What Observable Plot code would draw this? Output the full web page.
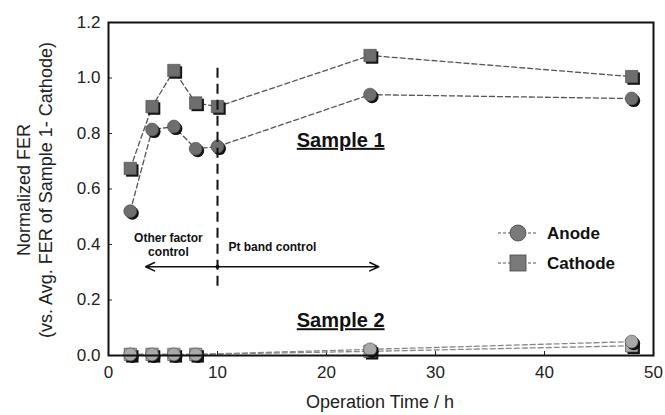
<!DOCTYPE html>
<html><head><meta charset="utf-8">
<script src="https://cdn.jsdelivr.net/npm/d3@7"></script>
<script src="https://cdn.jsdelivr.net/npm/@observablehq/plot@0.6"></script>
<style>
body{margin:0;background:#fff;font-family:"Liberation Sans",Arial,sans-serif;}
#chart{position:relative;width:665px;height:415px;}
.uline text{text-decoration:underline;}
</style></head><body><div id="chart"></div>
<script>
const hours1 = [2, 4, 6, 8, 10, 24, 48];
const s1Anode = [0.52, 0.814, 0.825, 0.745, 0.753, 0.94, 0.926];
const s1Cathode = [0.674, 0.897, 1.027, 0.91, 0.897, 1.081, 1.005];
const hours2 = [2, 4, 6, 8, 24, 48];
const s2Anode = [0.004, 0.004, 0.004, 0.004, 0.022, 0.05];
const s2Cathode = [0.004, 0.004, 0.004, 0.004, 0.015, 0.035];
const xTicks = [0, 10, 20, 30, 40, 50];
const yTicks = [0, 0.2, 0.4, 0.6, 0.8, 1.0, 1.2];

const mk = (xs, ys, sample, electrode) => xs.map((x, i) => ({x, y: ys[i], sample, electrode}));
const s1a = mk(hours1, s1Anode, "1", "Anode");
const s1c = mk(hours1, s1Cathode, "1", "Cathode");
const s2a = mk(hours2, s2Anode, "2", "Anode");
const s2c = mk(hours2, s2Cathode, "2", "Cathode");

const dark = "#6e6e6e", light = "#a9a9a9";
function series(data, symbol, fill, stroke, r) {
  return [
    Plot.line(data, {x: "x", y: "y", stroke: stroke, strokeWidth: 1.3, strokeDasharray: "5,3"}),
    Plot.dot(data, {x: "x", y: "y", symbol, r, fill: "#111", stroke: "none", dx: 2, dy: 2}),
    Plot.dot(data, {x: "x", y: "y", symbol, r, fill, stroke: "#444", strokeWidth: 0.6})
  ];
}

const chart = Plot.plot({
  width: 665, height: 415,
  marginLeft: 108, marginRight: 12, marginTop: 22, marginBottom: 60,
  style: {fontFamily: "'Liberation Sans', Arial, sans-serif", fontSize: "17px", color: "#222", background: "#fff"},
  x: {domain: [0, 50], ticks: xTicks, tickSize: -4, tickPadding: 14, label: null},
  y: {domain: [0, 1.2], ticks: yTicks, tickFormat: d3.format(".1f"), tickSize: -4, tickPadding: 12, label: null},
  marks: [
    ...series(s2c, "square", light, "#888", 7),
    ...series(s2a, "circle", light, "#888", 6.5),
    ...series(s1c, "square", dark, "#555", 7),
    ...series(s1a, "circle", dark, "#555", 6.5),
    Plot.ruleX([10], {y1: 0.25, y2: 1.04, stroke: "#111", strokeWidth: 2, strokeDasharray: "10,6"}),
    Plot.arrow([{x1: 10, x2: 3.4, y: 0.32}, {x1: 10, x2: 24.8, y: 0.32}], {x1: "x1", x2: "x2", y1: "y", y2: "y", stroke: "#111", strokeWidth: 1.5, headLength: 10, headAngle: 50}),
    Plot.dot([{x: 10, y: 0.32}], {x: "x", y: "y", r: 2, fill: "#111"}),
    Plot.text(["Other factor\ncontrol"], {x: 5.5, y: 0.40, fontWeight: "bold", fontSize: 12, fill: "#111", lineHeight: 1.2}),
    Plot.text(["Pt band control"], {x: 11, y: 0.39, textAnchor: "start", fontWeight: "bold", fontSize: 12, fill: "#111"}),
    Plot.text(["Sample 1"], {x: 21.3, y: 0.775, fontWeight: "bold", fontSize: 20, fill: "#111", className: "uline"}),
    Plot.text(["Sample 2"], {x: 21.3, y: 0.125, fontWeight: "bold", fontSize: 20, fill: "#111", className: "uline"}),
    Plot.frame({stroke: "#111", strokeWidth: 2})
  ]
});
chart.style.position = "absolute";
chart.style.left = "0"; chart.style.top = "0";
const root = document.getElementById("chart");
root.appendChild(chart);
d3.select(chart).selectAll(".uline text").attr("text-decoration", "underline");

const svg = d3.select(chart);
svg.append("text").attr("x", 380).attr("y", 408).attr("text-anchor", "middle")
  .attr("font-size", 18).attr("fill", "#222").text("Operation Time / h");
const yl = svg.append("text").attr("transform", "translate(30,190) rotate(-90)")
  .attr("text-anchor", "middle").attr("font-size", 18).attr("fill", "#222");
yl.append("tspan").attr("x", 0).attr("dy", 0).text("Normalized FER");
yl.append("tspan").attr("x", 0).attr("dy", 22).text("(vs. Avg. FER of Sample 1- Cathode)");

const legend = [{label: "Anode", sym: "circle", cy: 233}, {label: "Cathode", sym: "square", cy: 263}];
legend.forEach(l => {
  const g = svg.append("g");
  g.append("line").attr("x1", 498).attr("x2", 537).attr("y1", l.cy).attr("y2", l.cy)
    .attr("stroke", "#555").attr("stroke-width", 1).attr("stroke-dasharray", "3,2");
  if (l.sym === "circle") {
    g.append("circle").attr("cx", 518).attr("cy", l.cy).attr("r", 8).attr("fill", "#7a7a7a").attr("stroke", "#444").attr("stroke-width", 0.8);
  } else {
    g.append("rect").attr("x", 510).attr("y", l.cy - 8).attr("width", 16).attr("height", 16).attr("fill", "#7a7a7a").attr("stroke", "#444").attr("stroke-width", 0.8);
  }
  g.append("text").attr("x", 547).attr("y", l.cy + 6).attr("text-anchor", "start").attr("font-size", 17).attr("font-weight", "bold").attr("fill", "#111").text(l.label);
});
</script></body></html>
